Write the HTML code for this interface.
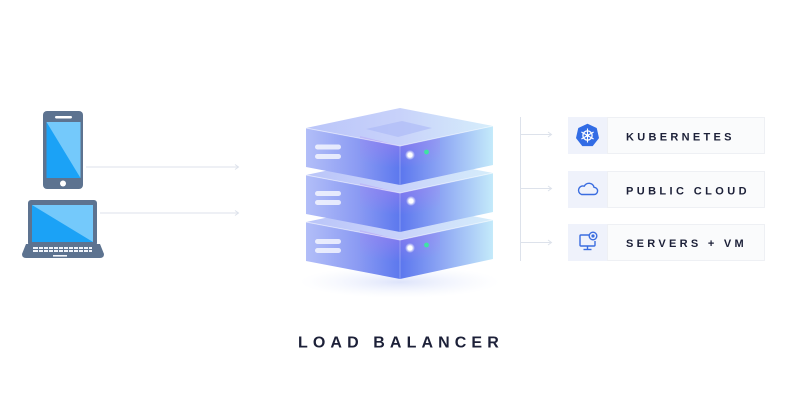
<!DOCTYPE html>
<html>
<head>
<meta charset="utf-8">
<style>
  html,body{margin:0;padding:0;background:#fff;}
  body{width:800px;height:420px;overflow:hidden;}
  svg{display:block;}
  .lbl{font-family:"Liberation Sans",Arial,sans-serif;font-weight:700;fill:#1c2038;}
</style>
</head>
<body>
<svg width="800" height="420" viewBox="0 0 800 420" xmlns="http://www.w3.org/2000/svg">
  <defs>
    <linearGradient id="lf" x1="306" y1="0" x2="400" y2="0" gradientUnits="userSpaceOnUse">
      <stop offset="0" stop-color="#b2bef8"/>
      <stop offset="0.55" stop-color="#8b9bf3"/>
      <stop offset="1" stop-color="#5c78ee"/>
    </linearGradient>
    <linearGradient id="rf" x1="400" y1="0" x2="493" y2="0" gradientUnits="userSpaceOnUse">
      <stop offset="0" stop-color="#5b76ee"/>
      <stop offset="0.45" stop-color="#8ea7f4"/>
      <stop offset="1" stop-color="#c4eafa"/>
    </linearGradient>
    <linearGradient id="tf" x1="306" y1="0" x2="493" y2="0" gradientUnits="userSpaceOnUse">
      <stop offset="0" stop-color="#bac5f9"/>
      <stop offset="0.5" stop-color="#c8d2fa"/>
      <stop offset="1" stop-color="#d6eefb"/>
    </linearGradient>
    <radialGradient id="purp" cx="0.5" cy="0" r="0.8">
      <stop offset="0" stop-color="#b07cf0" stop-opacity="0.55"/>
      <stop offset="1" stop-color="#b07cf0" stop-opacity="0"/>
    </radialGradient>
    <radialGradient id="glow" cx="0.5" cy="0.5" r="0.5">
      <stop offset="0" stop-color="#ffffff" stop-opacity="1"/>
      <stop offset="0.45" stop-color="#ffffff" stop-opacity="0.9"/>
      <stop offset="1" stop-color="#ffffff" stop-opacity="0"/>
    </radialGradient>
    <radialGradient id="shadow" cx="0.5" cy="0.5" r="0.5">
      <stop offset="0" stop-color="#d9e0fa" stop-opacity="0.9"/>
      <stop offset="1" stop-color="#eef2fd" stop-opacity="0"/>
    </radialGradient>
  </defs>

  <!-- phone -->
  <rect x="43" y="111" width="40" height="78" rx="4" fill="#5d7390"/>
  <rect x="46.5" y="122" width="34" height="56" fill="#1ba2f6"/>
  <polygon points="46.5,122 80.5,122 80.5,178" fill="#74c9fb"/>
  <rect x="55" y="116" width="17" height="2.5" rx="1.2" fill="#fff"/>
  <circle cx="63" cy="183.5" r="3" fill="#fff"/>

  <!-- laptop -->
  <rect x="28" y="200" width="69" height="46" rx="3" fill="#5d7390"/>
  <rect x="32" y="205" width="61" height="37" fill="#1ba2f6"/>
  <polygon points="32,205 93,205 93,242" fill="#74c9fb"/>
  <path d="M26 244 H100 L104 254 Q104 258 100 258 H26 Q22 258 22 254 Z" fill="#5d7390"/>
  <g fill="#f2f5fa">
    <rect x="33" y="247" width="59" height="2"/>
    <rect x="33" y="250" width="59" height="2"/>
  </g>
  <g fill="#5d7390">
    <rect x="38" y="246" width="1" height="7"/>
    <rect x="43" y="246" width="1" height="7"/>
    <rect x="48" y="246" width="1" height="7"/>
    <rect x="53" y="246" width="1" height="7"/>
    <rect x="58" y="246" width="1" height="7"/>
    <rect x="63" y="246" width="1" height="7"/>
    <rect x="68" y="246" width="1" height="7"/>
    <rect x="73" y="246" width="1" height="7"/>
    <rect x="78" y="246" width="1" height="7"/>
    <rect x="83" y="246" width="1" height="7"/>
    <rect x="88" y="246" width="1" height="7"/>
  </g>
  <rect x="53" y="255" width="14" height="1.6" fill="#f2f5fa"/>

  <!-- left connectors -->
  <g stroke="#dde2eb" stroke-width="1" fill="none">
    <line x1="86" y1="167" x2="238" y2="167"/>
    <line x1="100" y1="213" x2="238" y2="213"/>
    <polyline points="235,164.5 238.5,167 235,169.5"/>
    <polyline points="235,210.5 238.5,213 235,215.5"/>
  </g>

  <!-- SERVER STACK -->
  <ellipse cx="400" cy="282" rx="100" ry="16" fill="url(#shadow)"/>

  <!-- slab 3 -->
  <g>
    <polygon points="306,222 400,202 493,220 400,240" fill="url(#tf)"/>
    <polygon points="306,222 400,240 400,279 306,261" fill="url(#lf)"/>
    <polygon points="400,240 493,220 493,259 400,279" fill="url(#rf)"/>
    <polygon points="360,230 400,240 440,232 440,262 400,270 360,262" fill="url(#purp)"/>
    <polyline points="306,222 400,240 493,220" fill="none" stroke="#ffffff" stroke-opacity="0.55" stroke-width="0.9"/>
    <line x1="400" y1="240" x2="400" y2="279" stroke="#ffffff" stroke-opacity="0.35" stroke-width="0.8"/>
    <rect x="315" y="239" width="26" height="5" rx="2.5" fill="#fff" fill-opacity="0.75"/>
    <rect x="315" y="248" width="26" height="5" rx="2.5" fill="#fff" fill-opacity="0.75"/>
    <circle cx="410" cy="248" r="5" fill="url(#glow)"/>
    <circle cx="410" cy="248" r="2.3" fill="#fff"/>
    <circle cx="426.5" cy="245" r="2.4" fill="#3ee3a3"/>
  </g>

  <!-- slab 2 -->
  <g>
    <polygon points="306,175 400,155 493,173 400,193" fill="url(#tf)"/>
    <polygon points="306,175 400,193 400,232 306,214" fill="url(#lf)"/>
    <polygon points="400,193 493,173 493,212 400,232" fill="url(#rf)"/>
    <polygon points="360,183 400,193 440,185 440,215 400,223 360,215" fill="url(#purp)"/>
    <polyline points="306,175 400,193 493,173" fill="none" stroke="#ffffff" stroke-opacity="0.55" stroke-width="0.9"/>
    <line x1="400" y1="193" x2="400" y2="232" stroke="#ffffff" stroke-opacity="0.35" stroke-width="0.8"/>
    <rect x="315" y="191" width="26" height="5" rx="2.5" fill="#fff" fill-opacity="0.75"/>
    <rect x="315" y="200" width="26" height="5" rx="2.5" fill="#fff" fill-opacity="0.75"/>
    <circle cx="411" cy="201" r="5" fill="url(#glow)"/>
    <circle cx="411" cy="201" r="2.3" fill="#fff"/>
  </g>

  <!-- slab 1 -->
  <g>
    <polygon points="306,128 400,108 493,126 400,146" fill="url(#tf)"/>
    <polygon points="366,129 402,121 432,128 398,137" fill="#aab8f7" fill-opacity="0.6"/>
    <polygon points="306,128 400,146 400,185 306,167" fill="url(#lf)"/>
    <polygon points="400,146 493,126 493,165 400,185" fill="url(#rf)"/>
    <polygon points="360,136 400,146 440,138 440,168 400,176 360,168" fill="url(#purp)"/>
    <polyline points="306,128 400,146 493,126" fill="none" stroke="#ffffff" stroke-opacity="0.55" stroke-width="0.9"/>
    <line x1="400" y1="146" x2="400" y2="185" stroke="#ffffff" stroke-opacity="0.35" stroke-width="0.8"/>
    <rect x="315" y="144.5" width="26" height="5" rx="2.5" fill="#fff" fill-opacity="0.75"/>
    <rect x="315" y="154" width="26" height="5" rx="2.5" fill="#fff" fill-opacity="0.75"/>
    <circle cx="410" cy="155" r="5" fill="url(#glow)"/>
    <circle cx="410" cy="155" r="2.3" fill="#fff"/>
    <circle cx="426.5" cy="152" r="2.4" fill="#3ee3a3"/>
  </g>

  <text class="lbl" x="298" y="347.5" font-size="16" letter-spacing="5.1">LOAD BALANCER</text>

  <!-- right connectors -->
  <g stroke="#dde2eb" stroke-width="1" fill="none">
    <line x1="520.5" y1="117" x2="520.5" y2="261"/>
    <line x1="521" y1="134.5" x2="551" y2="134.5"/>
    <line x1="521" y1="188.5" x2="551" y2="188.5"/>
    <line x1="521" y1="242.5" x2="551" y2="242.5"/>
    <polyline points="548,132 551.5,134.5 548,137"/>
    <polyline points="548,186 551.5,188.5 548,191"/>
    <polyline points="548,240 551.5,242.5 548,245"/>
  </g>

  <!-- boxes -->
  <g>
    <rect x="568" y="117" width="39" height="37" fill="#eff2fb"/>
    <rect x="607.5" y="117.5" width="157" height="36" fill="#fafbfc" stroke="#eef0f4" stroke-width="1"/>
    <rect x="568" y="171" width="39" height="37" fill="#eff2fb"/>
    <rect x="607.5" y="171.5" width="157" height="36" fill="#fafbfc" stroke="#eef0f4" stroke-width="1"/>
    <rect x="568" y="224" width="39" height="37" fill="#eff2fb"/>
    <rect x="607.5" y="224.5" width="157" height="36" fill="#fafbfc" stroke="#eef0f4" stroke-width="1"/>
  </g>

  <text class="lbl" x="626" y="140.5" font-size="11" letter-spacing="3.3">KUBERNETES</text>
  <text class="lbl" x="626" y="194.5" font-size="11" letter-spacing="3.4">PUBLIC CLOUD</text>
  <text class="lbl" x="626" y="246.8" font-size="11" letter-spacing="3.3">SERVERS + VM</text>

  <!-- kubernetes icon -->
  <g transform="translate(587.5,135.5)">
    <polygon points="0,-11 8.6,-6.9 10.7,2.4 4.8,9.9 -4.8,9.9 -10.7,2.4 -8.6,-6.9" fill="#326ce5" stroke="#326ce5" stroke-width="1.5" stroke-linejoin="round"/>
    <circle cx="0" cy="0" r="4.6" fill="none" stroke="#fff" stroke-width="1.3"/>
    <g stroke="#fff" stroke-width="1.1">
      <line x1="0" y1="-7" x2="0" y2="7"/>
      <line x1="-6.1" y1="-3.5" x2="6.1" y2="3.5"/>
      <line x1="-6.1" y1="3.5" x2="6.1" y2="-3.5"/>
    </g>
    <circle cx="0" cy="0" r="1.5" fill="#fff"/>
  </g>

  <!-- cloud icon -->
  <path d="M581.5 194.5 H594 A3.6 3.6 0 0 0 594 187.3 A5.2 5.2 0 0 0 584.3 186.2 A4.2 4.2 0 0 0 581.5 194.5 Z" fill="none" stroke="#3a6de0" stroke-width="1.4" stroke-linejoin="round"/>

  <!-- monitor + globe icon -->
  <g fill="none" stroke="#3a6de0" stroke-width="1.4" stroke-linejoin="round">
    <path d="M589 235 H581 Q580 235 580 236 V245 Q580 246 581 246 H594 Q595 246 595 245 V241"/>
    <line x1="587.5" y1="246" x2="587.5" y2="249"/>
    <line x1="583.5" y1="249.5" x2="591.5" y2="249.5"/>
    <circle cx="593" cy="236" r="3.8"/>
  </g>
  <circle cx="593" cy="236" r="1.6" fill="#3a6de0"/>
</svg>
</body>
</html>
